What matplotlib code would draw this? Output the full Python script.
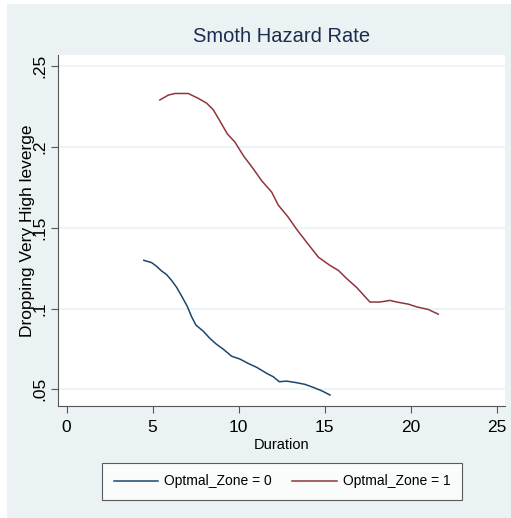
import matplotlib.pyplot as plt
from matplotlib.patches import Rectangle
from matplotlib import font_manager

# hazard estimates
dur0 = [4.49, 4.94, 5.23, 5.52, 5.81, 6.10, 6.40, 6.69, 7.01, 7.27, 7.52, 7.94,
        8.33, 8.72, 9.10, 9.59, 10.08, 10.56, 11.05, 11.63, 12.01, 12.36, 12.79,
        13.37, 13.85, 14.34, 14.83, 15.31]
haz0 = [0.1298, 0.1284, 0.1261, 0.1232, 0.1210, 0.1174, 0.1130, 0.1076, 0.1014,
        0.0948, 0.0897, 0.0860, 0.0815, 0.0778, 0.0749, 0.0705, 0.0687, 0.0660,
        0.0636, 0.0599, 0.0578, 0.0547, 0.0551, 0.0541, 0.0531, 0.0512, 0.0491,
        0.0465]

dur1 = [5.42, 5.91, 6.30, 7.07, 7.65, 8.14, 8.52, 8.91, 9.34, 9.78, 10.27, 10.85,
        11.34, 11.92, 12.30, 12.88, 13.37, 13.95, 14.63, 15.30, 15.79, 16.28,
        16.86, 17.63, 18.20, 18.80, 19.19, 19.86, 20.35, 21.02, 21.60]
haz1 = [0.229, 0.232, 0.233, 0.233, 0.230, 0.227, 0.223, 0.216, 0.208, 0.203,
        0.1946, 0.1864, 0.179, 0.172, 0.164, 0.1565, 0.149, 0.141, 0.1318,
        0.1267, 0.1236, 0.1185, 0.113, 0.104, 0.104, 0.105, 0.104, 0.1027,
        0.101, 0.0994, 0.0965]

xticks = [0, 5, 10, 15, 20, 25]
yticks = [0.05, 0.1, 0.15, 0.2, 0.25]
ylabels = [".05", ".1", ".15", ".2", ".25"]

names = [f.name for f in font_manager.fontManager.ttflist]
narrow = "Liberation Sans Narrow" in names
fam = "Liberation Sans Narrow" if narrow else "Liberation Sans"
plt.rcParams["font.family"] = [fam, "DejaVu Sans"]
k = 1.2 if narrow else 1.0

bg = "#EAF2F3"
fig = plt.figure(figsize=(5.11, 5.18), dpi=100)
fig.patches.append(Rectangle((7 / 511, 0), 1, 1 - 4 / 518, transform=fig.transFigure,
                             facecolor=bg, edgecolor="none", zorder=-10))

ax = fig.add_axes([58 / 511, 1 - 406 / 518, 447 / 511, 351 / 518])
ax.set_facecolor("white")
ax.plot(dur0, haz0, color="#1A476F", lw=1.1, label="Optmal_Zone = 0")
ax.plot(dur1, haz1, color="#90353B", lw=1.1, label="Optmal_Zone = 1")

ax.set_xlim(-0.5, 25.48)
ax.set_ylim(0.0397, 0.2568)
ax.set_xticks(xticks)
ax.set_yticks(yticks)
ax.set_yticklabels(ylabels, rotation=90, va="center")
ax.grid(axis="y", color=bg, lw=1.2)
ax.set_axisbelow(True)
for s in ["top", "right"]:
    ax.spines[s].set_visible(False)
for s in ["left", "bottom"]:
    ax.spines[s].set_color("#555555")
    ax.spines[s].set_linewidth(0.8)
ax.tick_params(direction="out", length=5, width=0.8, color="#555555",
               labelsize=12.5 * k)
ax.tick_params(axis="x", pad=5)
ax.tick_params(axis="y", pad=3)

ax.set_xlabel("Duration", fontsize=10.5 * k)
ax.xaxis.set_label_coords(0.5, -0.092)
ax.set_ylabel("Dropping Very High leverge", fontsize=12.5 * k)
ax.yaxis.set_label_coords(-0.052, 0.5)
ax.set_title("Smoth Hazard Rate", fontsize=14.5 * k, color="#1E2D4F", pad=9)

leg = fig.legend(loc="center", bbox_to_anchor=(282 / 511, 1 - 481.5 / 518), ncol=2,
                 fontsize=10 * k, frameon=True, fancybox=False, handlelength=3.2,
                 handletextpad=0.45, columnspacing=1.45, borderpad=0.8)
leg.get_frame().set_edgecolor("#333333")
leg.get_frame().set_linewidth(0.8)

fig.savefig("out.png", dpi=100)
